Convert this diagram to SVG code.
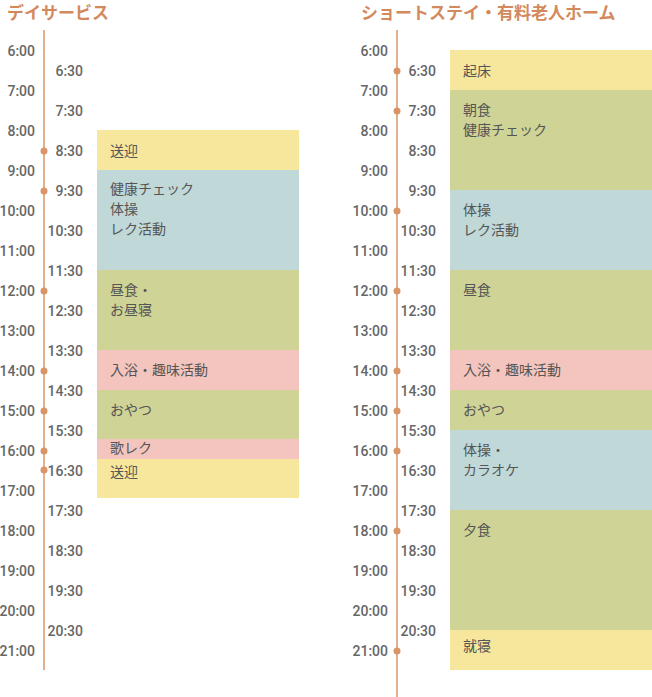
<svg xmlns="http://www.w3.org/2000/svg" width="652" height="697" viewBox="0 0 652 697">
<style>
.title{font-family:"Noto Sans CJK JP","Noto Sans",sans-serif;font-size:17px;font-weight:700;fill:#d4895c}
.t{font-family:Roboto,"Liberation Sans",sans-serif;font-size:14px;font-weight:500;fill:#666;text-anchor:end}
.b{font-family:"Noto Sans CJK JP",sans-serif;font-size:14px;fill:#555}
.axis{stroke:#d9956a;stroke-width:1.5}
.dot{fill:#d9956a}
.y{fill:#f7e79c}.g{fill:#cfd395}.c{fill:#c0d8d8}.p{fill:#f4c5be}
</style>
<text class="title" x="7" y="19">デイサービス</text>
<text class="title" x="361" y="19">ショートステイ・有料老人ホーム</text>
<g id="left-labels">
<text class="t" x="35" y="56">6:00</text><text class="t" x="35" y="96">7:00</text><text class="t" x="35" y="136">8:00</text><text class="t" x="35" y="176">9:00</text><text class="t" x="35" y="216">10:00</text><text class="t" x="35" y="256">11:00</text><text class="t" x="35" y="296">12:00</text><text class="t" x="35" y="336">13:00</text><text class="t" x="35" y="376">14:00</text><text class="t" x="35" y="416">15:00</text><text class="t" x="35" y="456">16:00</text><text class="t" x="35" y="496">17:00</text><text class="t" x="35" y="536">18:00</text><text class="t" x="35" y="576">19:00</text><text class="t" x="35" y="616">20:00</text><text class="t" x="35" y="656">21:00</text>
<text class="t" x="83" y="76">6:30</text><text class="t" x="83" y="116">7:30</text><text class="t" x="83" y="156">8:30</text><text class="t" x="83" y="196">9:30</text><text class="t" x="83" y="236">10:30</text><text class="t" x="83" y="276">11:30</text><text class="t" x="83" y="316">12:30</text><text class="t" x="83" y="356">13:30</text><text class="t" x="83" y="396">14:30</text><text class="t" x="83" y="436">15:30</text><text class="t" x="83" y="476">16:30</text><text class="t" x="83" y="516">17:30</text><text class="t" x="83" y="556">18:30</text><text class="t" x="83" y="596">19:30</text><text class="t" x="83" y="636">20:30</text>
</g>
<g id="left-axis">
<line class="axis" x1="44" y1="30" x2="44" y2="670"/>
<circle class="dot" cx="44" cy="151" r="3.5"/><circle class="dot" cx="44" cy="191" r="3.5"/><circle class="dot" cx="44" cy="291" r="3.5"/><circle class="dot" cx="44" cy="371" r="3.5"/><circle class="dot" cx="44" cy="411" r="3.5"/><circle class="dot" cx="44" cy="451" r="3.5"/><circle class="dot" cx="44" cy="470" r="3.5"/>
</g>
<g id="left-blocks">
<g id="l1"><rect class="y" x="97" y="130" width="202" height="40"/><text class="b" x="110" y="156">送迎</text></g>
<g id="l2"><rect class="c" x="97" y="170" width="202" height="100"/><text class="b" x="110" y="194">健康チェック</text><text class="b" x="110" y="214">体操</text><text class="b" x="110" y="234">レク活動</text></g>
<g id="l3"><rect class="g" x="97" y="270" width="202" height="80"/><text class="b" x="110" y="295">昼食・</text><text class="b" x="110" y="315">お昼寝</text></g>
<g id="l4"><rect class="p" x="97" y="350" width="202" height="40"/><text class="b" x="110" y="375">入浴・趣味活動</text></g>
<g id="l5"><rect class="g" x="97" y="390" width="202" height="49"/><text class="b" x="110" y="415">おやつ</text></g>
<g id="l6"><rect class="p" x="97" y="439" width="202" height="20"/><text class="b" x="110" y="453">歌レク</text></g>
<g id="l7"><rect class="y" x="97" y="459" width="202" height="39"/><text class="b" x="110" y="477">送迎</text></g>
</g>
<g id="right-labels">
<text class="t" x="388" y="56">6:00</text><text class="t" x="388" y="96">7:00</text><text class="t" x="388" y="136">8:00</text><text class="t" x="388" y="176">9:00</text><text class="t" x="388" y="216">10:00</text><text class="t" x="388" y="256">11:00</text><text class="t" x="388" y="296">12:00</text><text class="t" x="388" y="336">13:00</text><text class="t" x="388" y="376">14:00</text><text class="t" x="388" y="416">15:00</text><text class="t" x="388" y="456">16:00</text><text class="t" x="388" y="496">17:00</text><text class="t" x="388" y="536">18:00</text><text class="t" x="388" y="576">19:00</text><text class="t" x="388" y="616">20:00</text><text class="t" x="388" y="656">21:00</text>
<text class="t" x="436" y="76">6:30</text><text class="t" x="436" y="116">7:30</text><text class="t" x="436" y="156">8:30</text><text class="t" x="436" y="196">9:30</text><text class="t" x="436" y="236">10:30</text><text class="t" x="436" y="276">11:30</text><text class="t" x="436" y="316">12:30</text><text class="t" x="436" y="356">13:30</text><text class="t" x="436" y="396">14:30</text><text class="t" x="436" y="436">15:30</text><text class="t" x="436" y="476">16:30</text><text class="t" x="436" y="516">17:30</text><text class="t" x="436" y="556">18:30</text><text class="t" x="436" y="596">19:30</text><text class="t" x="436" y="636">20:30</text>
</g>
<g id="right-axis">
<line class="axis" x1="397" y1="30" x2="397" y2="697"/>
<circle class="dot" cx="397" cy="71" r="3.5"/><circle class="dot" cx="397" cy="111" r="3.5"/><circle class="dot" cx="397" cy="211" r="3.5"/><circle class="dot" cx="397" cy="291" r="3.5"/><circle class="dot" cx="397" cy="371" r="3.5"/><circle class="dot" cx="397" cy="411" r="3.5"/><circle class="dot" cx="397" cy="451" r="3.5"/><circle class="dot" cx="397" cy="531" r="3.5"/><circle class="dot" cx="397" cy="651" r="3.5"/>
</g>
<g id="right-blocks">
<g id="r1"><rect class="y" x="450" y="50" width="202" height="40"/><text class="b" x="463" y="76">起床</text></g>
<g id="r2"><rect class="g" x="450" y="90" width="202" height="100"/><text class="b" x="463" y="115">朝食</text><text class="b" x="463" y="135">健康チェック</text></g>
<g id="r3"><rect class="c" x="450" y="190" width="202" height="80"/><text class="b" x="463" y="215">体操</text><text class="b" x="463" y="235">レク活動</text></g>
<g id="r4"><rect class="g" x="450" y="270" width="202" height="80"/><text class="b" x="463" y="295">昼食</text></g>
<g id="r5"><rect class="p" x="450" y="350" width="202" height="40"/><text class="b" x="463" y="375">入浴・趣味活動</text></g>
<g id="r6"><rect class="g" x="450" y="390" width="202" height="40"/><text class="b" x="463" y="415">おやつ</text></g>
<g id="r7"><rect class="c" x="450" y="430" width="202" height="80"/><text class="b" x="463" y="455">体操・</text><text class="b" x="463" y="475">カラオケ</text></g>
<g id="r8"><rect class="g" x="450" y="510" width="202" height="120"/><text class="b" x="463" y="535">夕食</text></g>
<g id="r9"><rect class="y" x="450" y="630" width="202" height="40"/><text class="b" x="463" y="651">就寝</text></g>
</g>
</svg>
